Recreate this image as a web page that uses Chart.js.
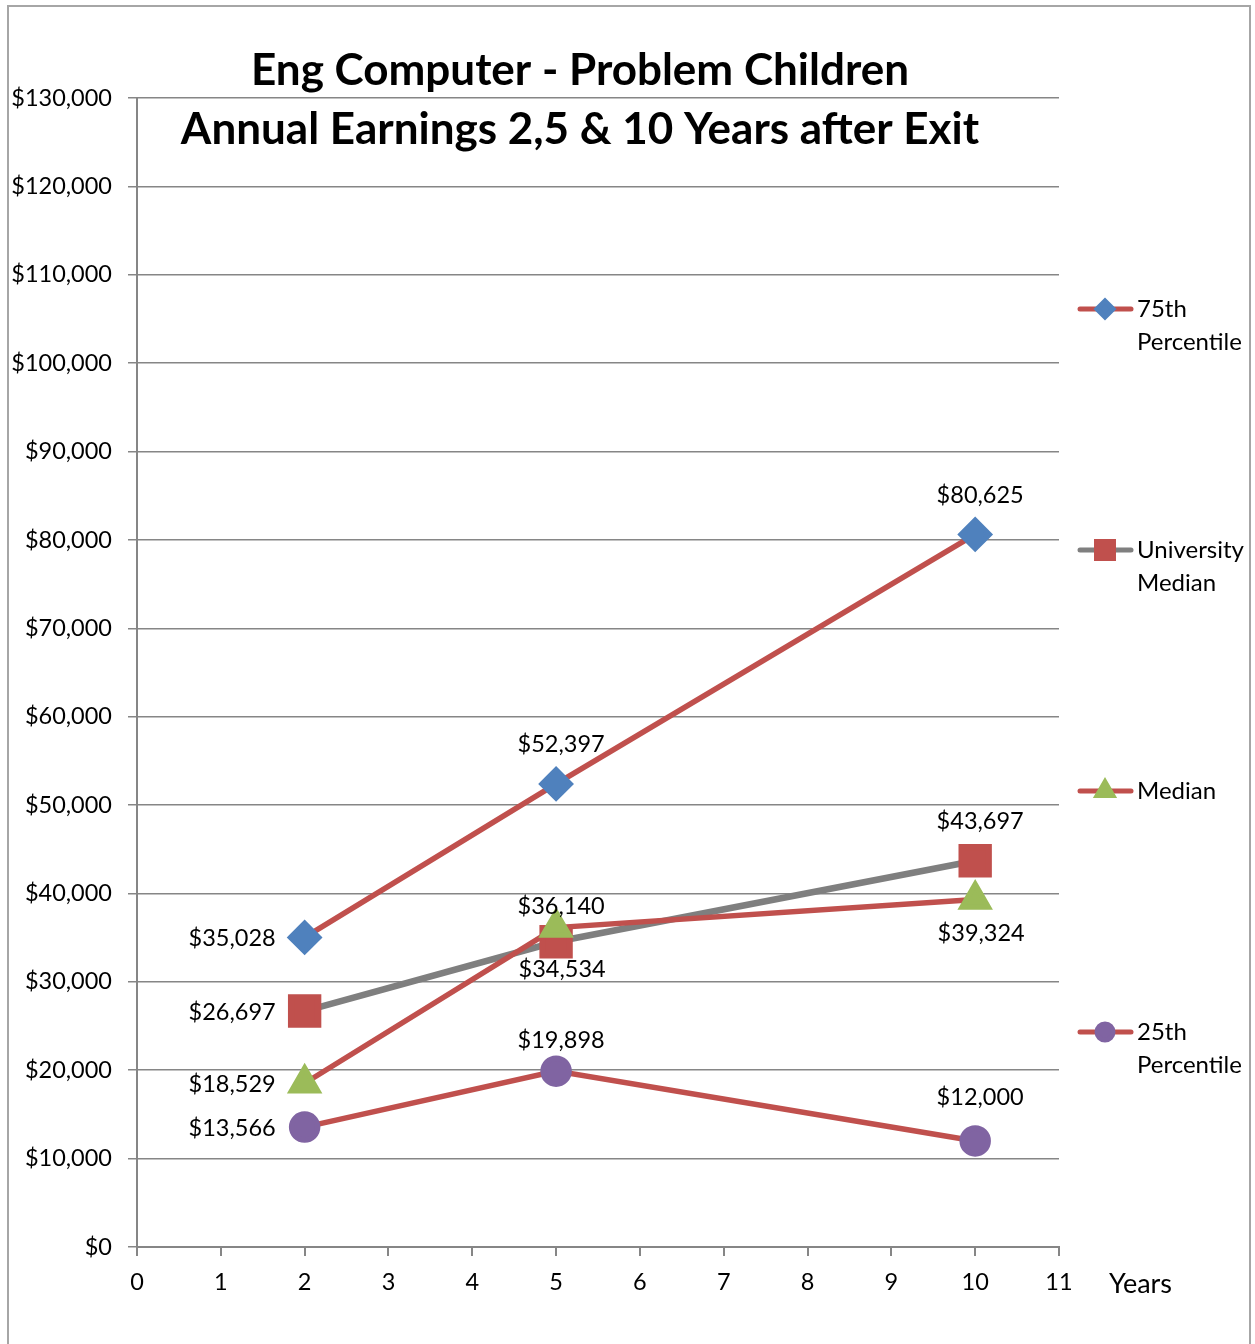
<!DOCTYPE html>
<html>
<head>
<meta charset="utf-8">
<script src="https://cdn.jsdelivr.net/npm/chart.js@4.4.1/dist/chart.umd.min.js"></script>
<style>
  html, body { margin: 0; padding: 0; background: #fff; }
  #wrap { position: relative; width: 1255px; height: 1344px; }
  #frame { position: absolute; left: 7px; top: 5px; width: 1244px; height: 1345px;
           border: 2px solid #a6a6a6; box-sizing: border-box; pointer-events: none; }
</style>
</head>
<body>
<div id="wrap">
  <canvas id="myChart" width="1255" height="1344"></canvas>
  <div id="frame"></div>
</div>
<script>
// data
var years = [2, 5, 10];
var p75 = [35028, 52397, 80625];
var uniMedian = [26697, 34534, 43697];
var median = [18529, 36140, 39324];
var p25 = [13566, 19898, 12000];
var seriesNames = ['75th Percentile', 'University Median', 'Median', '25th Percentile'];
var titleLines = ['Eng Computer - Problem Children', 'Annual Earnings 2,5 & 10 Years after Exit'];

var FONT = 'Lato, "Open Sans", sans-serif';

// where each point label goes (per series, per point)
var labelPos = [
  [['left', 0], ['above', 39], ['above', 39]],
  [['left', 0], ['below', 28], ['above', 39]],
  [['left', 0], ['above', 21], ['below', 34]],
  [['left', 0], ['above', 31], ['above', 44]]
];
// legend rows, two text lines each
var legendRows = [
  { y: 309, lines: ['75th', 'Percentile'] },
  { y: 550, lines: ['University', 'Median'] },
  { y: 791, lines: ['Median'] },
  { y: 1032, lines: ['25th', 'Percentile'] }
];

function pts(vals) {
  return years.map(function(x, i) { return { x: x, y: vals[i] }; });
}
function money(v) {
  return '$' + v.toLocaleString('en-US');
}

var red = '#C0504D', blue = '#4F81BD', green = '#9BBB59', purple = '#8064A2', grey = '#7F7F7F';

var datasets = [
  { label: seriesNames[0], data: pts(p75), borderColor: red, borderWidth: 5.5,
    pointStyle: 'rectRot', pointRadius: 14, pointBackgroundColor: blue, pointBorderColor: blue, order: 4 },
  { label: seriesNames[1], data: pts(uniMedian), borderColor: grey, borderWidth: 6.5,
    pointStyle: 'rect', pointRadius: 19, pointBackgroundColor: red, pointBorderColor: red, order: 3 },
  { label: seriesNames[2], data: pts(median), borderColor: red, borderWidth: 5.5,
    pointStyle: 'triangle', pointRadius: 15, pointBackgroundColor: green, pointBorderColor: green, order: 2 },
  { label: seriesNames[3], data: pts(p25), borderColor: red, borderWidth: 5.5,
    pointStyle: 'circle', pointRadius: 13, pointBackgroundColor: purple, pointBorderColor: purple, order: 1 }
];

var extras = {
  id: 'extras',
  afterDatasetsDraw: function(chart) {
    var ctx = chart.ctx;
    var ca = chart.chartArea;
    ctx.save();
    // point labels
    ctx.font = '23.5px ' + FONT;
    ctx.fillStyle = '#000';
    ctx.textBaseline = 'middle';
    chart.data.datasets.forEach(function(ds, di) {
      var meta = chart.getDatasetMeta(di);
      meta.data.forEach(function(pt, i) {
        var txt = money(ds.data[i].y);
        var pos = labelPos[di][i];
        if (pos[0] === 'left') {
          ctx.textAlign = 'right';
          ctx.fillText(txt, pt.x - 29, pt.y + 1);
        } else if (pos[0] === 'above') {
          ctx.textAlign = 'center';
          ctx.fillText(txt, pt.x + 5, pt.y - pos[1]);
        } else {
          ctx.textAlign = 'center';
          ctx.fillText(txt, pt.x + 6, pt.y + pos[1]);
        }
      });
    });
    // title
    ctx.font = 'bold 44px ' + FONT;
    ctx.textAlign = 'center';
    ctx.fillText(titleLines[0], 580, 71);
    ctx.fillText(titleLines[1], 580, 130);
    // legend
    ctx.font = '24px ' + FONT;
    ctx.textAlign = 'left';
    legendRows.forEach(function(row, di) {
      var ds = chart.data.datasets[di];
      ctx.strokeStyle = ds.borderColor;
      ctx.lineWidth = 5;
      ctx.lineCap = 'round';
      ctx.beginPath();
      ctx.moveTo(1080, row.y);
      ctx.lineTo(1131, row.y);
      ctx.stroke();
      ctx.fillStyle = ds.pointBackgroundColor;
      ctx.strokeStyle = ds.pointBackgroundColor;
      Chart.helpers.drawPoint(ctx, {
        pointStyle: ds.pointStyle,
        radius: di === 1 ? 12 : (di === 2 ? 9 : 8),
        borderWidth: 1
      }, 1105, row.y);
      ctx.fillStyle = '#000';
      row.lines.forEach(function(l, k) {
        ctx.fillText(l, 1137, row.y + k * 33);
      });
    });
    // axis title
    ctx.font = '27px ' + FONT;
    ctx.fillText('Years', 1109, ca.bottom + 37);
    ctx.restore();
  }
};

var ctx = document.getElementById('myChart').getContext('2d');
var myChart = new Chart(ctx, {
  type: 'line',
  data: { datasets: datasets },
  plugins: [extras],
  options: {
    responsive: false,
    animation: false,
    devicePixelRatio: 1,
    layout: { padding: { left: 0, right: 196, top: 98, bottom: 0 } },
    plugins: { legend: { display: false }, tooltip: { enabled: false } },
    elements: { line: { tension: 0 } },
    scales: {
      x: {
        type: 'linear', min: 0, max: 11,
        ticks: { stepSize: 1, color: '#000', font: { family: FONT, size: 23.5 }, padding: 12 },
        grid: { drawOnChartArea: false, drawTicks: true, tickLength: 9, color: '#868686', lineWidth: 2 },
        border: { color: '#868686', width: 2 },
        afterFit: function(s) { s.height = 97; }
      },
      y: {
        min: 0, max: 130000,
        ticks: { stepSize: 10000, color: '#000', font: { family: FONT, size: 23.5 }, padding: 16,
                 callback: function(v) { return money(v); } },
        grid: { color: '#868686', lineWidth: 1.5, tickLength: 9 },
        border: { color: '#868686', width: 2 },
        afterFit: function(s) { s.width = 137; }
      }
    }
  }
});
</script>
</body>
</html>
